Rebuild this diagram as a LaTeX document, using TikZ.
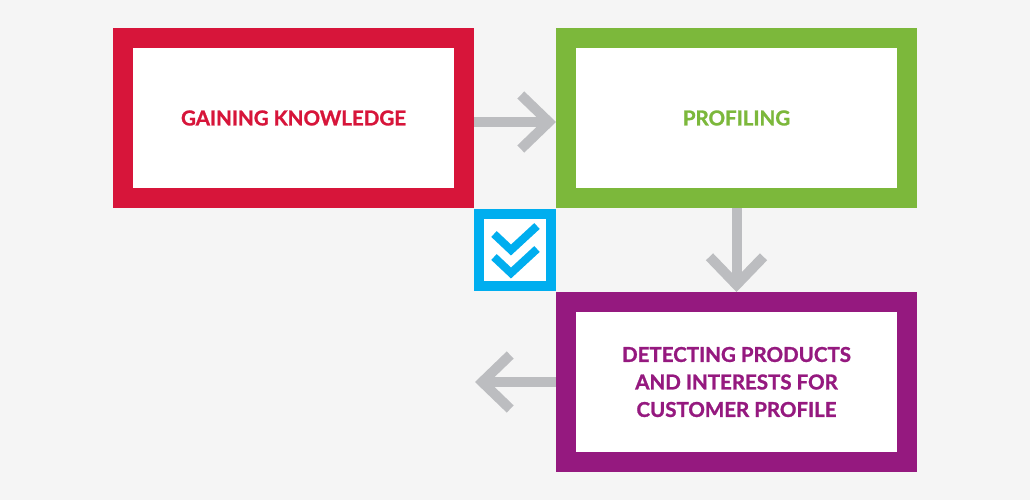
\documentclass[tikz,border=0pt]{standalone}
\usepackage{fontspec}
\setsansfont{Lato}[BoldFeatures={FakeBold=1.2}]
\usetikzlibrary{arrows.meta, positioning, calc}
\definecolor{stred}{HTML}{D7153A}
\definecolor{stgreen}{HTML}{7CB83B}
\definecolor{stpurple}{HTML}{95197F}
\definecolor{stblue}{HTML}{00AEEF}
\definecolor{stgray}{HTML}{BCBDC0}
\definecolor{stbg}{HTML}{F5F5F5}
\tikzset{
  st box/.style={
    rectangle, draw=#1, fill=white, line width=20pt,
    minimum width=341pt, minimum height=160pt,
    inner sep=0pt, outer sep=10pt,
    text=#1, align=center,
    font=\sffamily\bfseries\fontsize{20.5}{27.5}\selectfont
  },
  st check box/.style={
    rectangle, draw=stblue, fill=white, line width=10pt,
    minimum size=72pt, inner sep=0pt, outer sep=5pt
  },
  st check/.style={
    draw=stblue, line width=8pt, line cap=butt, miter limit=10
  },
  st arrow/.style={
    draw=stgray, line width=10pt,
    -{Straight Barb[length=28pt, width=54pt, line width=10pt]}
  }
}

\begin{document}
\begin{tikzpicture}[x=1pt, y=-1pt, node distance=82pt]
  \fill[stbg] (0,0) rectangle (1030,500);
  \useasboundingbox (0,0) rectangle (1030,500);

  \node (know) [st box=stred] at (293.5,118) {GAINING KNOWLEDGE};
  \node (prof) [st box=stgreen, right=82pt of know] {PROFILING};
  \node (detect) [st box=stpurple, below=84pt of prof] {DETECTING PRODUCTS\\AND INTERESTS FOR\\CUSTOMER PROFILE};
  \node (chk) [st check box, below right=1pt and 0pt of know.south east, anchor=north west] {};
  \coordinate [left=81pt of detect] (back);

  \draw [st check, shift={(chk.center)}] (-21,-16) -- (-4,0) -- (22,-24);
  \draw [st check, shift={(chk.center)}] (-21,7) -- (-4,23) -- (22,-1);

  \draw [st arrow] ([yshift=-4pt]know.east) -- ([yshift=-4pt]prof.west);
  \draw [st arrow] (prof) -- (detect);
  \draw [st arrow] (detect) -- (back);
\end{tikzpicture}
\end{document}
